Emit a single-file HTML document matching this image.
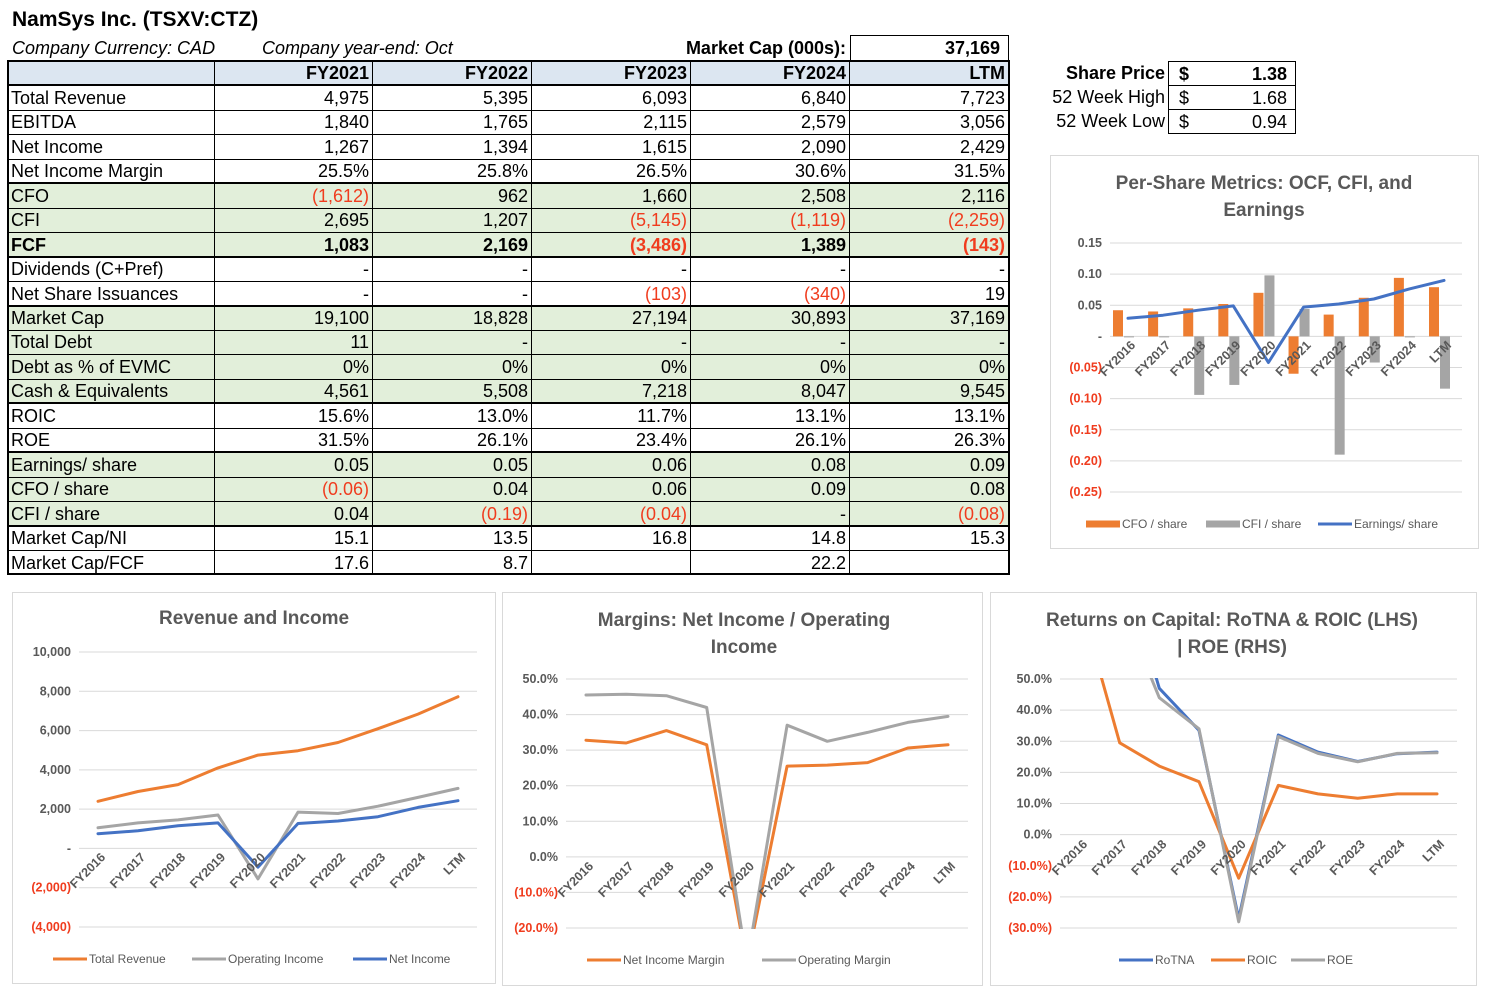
<!DOCTYPE html>
<html><head><meta charset="utf-8">
<style>
body{margin:0;width:1488px;height:995px;background:#fff;position:relative;overflow:hidden;font-family:"Liberation Sans",Arial,sans-serif;}
.abs{position:absolute;}
.cell{position:absolute;box-sizing:border-box;font-size:18px;line-height:24px;white-space:nowrap;overflow:hidden;padding:0 3px;color:#000;}
.r{text-align:right;}
.neg{color:#f03c1e;}
.chartbox{position:absolute;border:1px solid #d9d9d9;box-sizing:border-box;}
svg text{font-family:"Liberation Sans",Arial,sans-serif;}
</style></head><body>
<div class="abs" style="left:12px;top:8px;font-size:21px;font-weight:bold;">NamSys Inc. (TSXV:CTZ)</div>
<div class="abs" style="left:12px;top:38px;font-size:18px;font-style:italic;">Company Currency: CAD</div>
<div class="abs" style="left:262px;top:38px;font-size:18px;font-style:italic;">Company year-end: Oct</div>
<div class="abs" style="left:600px;width:246px;text-align:right;top:38px;font-size:18px;font-weight:bold;">Market Cap (000s):</div>
<div class="abs" style="left:850px;top:35px;width:159px;height:26px;box-sizing:border-box;border:1px solid #000;text-align:right;font-size:18px;font-weight:bold;line-height:24px;padding-right:8px;">37,169</div>
<div id="tbl"></div>
<div id="sp"></div>

<div class="chartbox" style="left:1050px;top:155px;width:429px;height:394px;"></div>
<div class="chartbox" style="left:12px;top:592px;width:484px;height:392px;"></div>
<div class="chartbox" style="left:502px;top:592px;width:481px;height:394px;"></div>
<div class="chartbox" style="left:990px;top:592px;width:487px;height:394px;"></div>
<svg id="svg" class="abs" style="left:0;top:0" width="1488" height="995"></svg>

<script>
// ---------- table data ----------
const rowLabels=["Total Revenue","EBITDA","Net Income","Net Income Margin","CFO","CFI","FCF","Dividends (C+Pref)","Net Share Issuances","Market Cap","Total Debt","Debt as % of EVMC","Cash & Equivalents","ROIC","ROE","Earnings/ share","CFO / share","CFI / share","Market Cap/NI","Market Cap/FCF"];
const colHeads=["FY2021","FY2022","FY2023","FY2024","LTM"];
const rowValues=[
["4,975","5,395","6,093","6,840","7,723"],
["1,840","1,765","2,115","2,579","3,056"],
["1,267","1,394","1,615","2,090","2,429"],
["25.5%","25.8%","26.5%","30.6%","31.5%"],
["(1,612)","962","1,660","2,508","2,116"],
["2,695","1,207","(5,145)","(1,119)","(2,259)"],
["1,083","2,169","(3,486)","1,389","(143)"],
["-","-","-","-","-"],
["-","-","(103)","(340)","19"],
["19,100","18,828","27,194","30,893","37,169"],
["11","-","-","-","-"],
["0%","0%","0%","0%","0%"],
["4,561","5,508","7,218","8,047","9,545"],
["15.6%","13.0%","11.7%","13.1%","13.1%"],
["31.5%","26.1%","23.4%","26.1%","26.3%"],
["0.05","0.05","0.06","0.08","0.09"],
["(0.06)","0.04","0.06","0.09","0.08"],
["0.04","(0.19)","(0.04)","-","(0.08)"],
["15.1","13.5","16.8","14.8","15.3"],
["17.6","8.7","","22.2",""]];
const greenRows=[4,5,6,9,10,11,12,15,16,17];
const groupBreaks=[0,4,7,9,13,15,18,20];

const colX=[8,215,373,532,691,850,1009];
const top0=61, rh=24.45;
const tbl=document.getElementById('tbl');
function mk(parent,cls,l,t,w,h,txt){const d=document.createElement('div');d.className=cls;d.style.left=l+'px';d.style.top=t+'px';d.style.width=w+'px';d.style.height=h+'px';d.textContent=txt;parent.appendChild(d);return d;}
// backgrounds
const hb=mk(tbl,'abs',8,top0,1001,rh,'');hb.style.background='#dce6f1';
greenRows.forEach(r=>{const b=mk(tbl,'abs',8,top0+rh*(r+1),1001,rh,'');b.style.background='#e2efda';});
// thin horizontal lines
for(let r=0;r<=21;r++){const l=mk(tbl,'abs',8,Math.round(top0+rh*r),1001,1,'');l.style.background='#000';}
// vertical lines
for(let c=1;c<6;c++){const l=mk(tbl,'abs',colX[c]-1,top0,1,rh*21,'');l.style.background='#000';}
// header
for(let c=1;c<6;c++){
  const d=mk(tbl,'cell r',colX[c],top0,colX[c+1]-colX[c]-1,rh,colHeads[c-1]);
  d.style.fontWeight='bold';
  
  
}
for(let r=0;r<rowLabels.length;r++){
  const y=top0+rh*(r+1)+0.5;
  for(let c=0;c<6;c++){
    const txt=c?rowValues[r][c-1]:rowLabels[r];
    const d=mk(tbl,'cell'+(c?' r':''),colX[c],y,colX[c+1]-colX[c]-1,rh,txt);
    if(r===6)d.style.fontWeight='bold';
    if(c&&txt.startsWith('('))d.classList.add('neg');
    
    
  }
}
// thick group lines
function hl(y){const d=mk(tbl,'abs',7,Math.round(y)-1,1003,2,'');d.style.background='#000';}
hl(top0);hl(top0+rh);
groupBreaks.forEach(b=>hl(top0+rh*(b+1)));
const lv=mk(tbl,'abs',7,top0,2,rh*21,'');lv.style.background='#000';
const rv=mk(tbl,'abs',1008,top0,2,rh*21,'');rv.style.background='#000';

// share price box
const sp=document.getElementById('sp');
const spLabels=["Share Price","52 Week High","52 Week Low"];
const spVals=["1.38","1.68","0.94"];
for(let i=0;i<3;i++){
  const y=61+i*24;
  const l=mk(sp,'cell r',1015,y,153,24,spLabels[i]);if(i==0)l.style.fontWeight='bold';
  const b=mk(sp,'cell',1168,y,128,25,'$');b.style.border='1px solid #000';b.style.paddingLeft='10px';if(i==0)b.style.fontWeight='bold';
  const v=mk(sp,'cell r',1200,y+1,90,24,spVals[i]);if(i==0)v.style.fontWeight='bold';
}

// ---------- chart data ----------
const cats=["FY2016","FY2017","FY2018","FY2019","FY2020","FY2021","FY2022","FY2023","FY2024","LTM"];
const cfoShare=[0.042,0.040,0.045,0.052,0.070,-0.060,0.035,0.062,0.094,0.079];
const cfiShare=[-0.001,-0.001,-0.094,-0.078,0.098,0.044,-0.190,-0.042,0,-0.084];
const epsShare=[0.029,0.034,0.042,0.049,-0.042,0.047,0.052,0.060,0.076,0.090];
const psTicks=[0.15,0.10,0.05,0,-0.05,-0.10,-0.15,-0.20,-0.25];
const revenue=[2400,2900,3250,4100,4750,4975,5395,6093,6840,7723];
const opIncome=[1050,1300,1450,1700,-1550,1850,1780,2150,2600,3056];
const netIncome=[750,900,1150,1300,-950,1267,1394,1615,2090,2429];
const revTicks=[10000,8000,6000,4000,2000,0,-2000,-4000];
const netMargin=[32.8,32.0,35.5,31.5,-30,25.5,25.8,26.5,30.6,31.5];
const opMargin=[45.5,45.7,45.3,42.0,-30,37.0,32.5,35.0,37.8,39.5];
const marginTicks=[50,40,30,20,10,0,-10,-20];
const rotna=[110,90,47,33.5,-27,32,26.5,23.5,26,26.5];
const roic=[75,29.5,22,17,-14,15.8,13.1,11.7,13.1,13.1];
const roe=[100,75,44,34,-28,31.5,26.1,23.4,26.1,26.3];
const retTicks=[50,40,30,20,10,0,-10,-20,-30];

const ORANGE='#ed7d31',GRAY='#a5a5a5',BLUE='#4472c4',RED='#f03c1e',TXT='#595959';
const svg=document.getElementById('svg');
const NS='http://www.w3.org/2000/svg';
function el(tag,attrs,parent){const e=document.createElementNS(NS,tag);for(const k in attrs)e.setAttribute(k,attrs[k]);(parent||svg).appendChild(e);return e;}
function txt(x,y,s,attrs,parent){const t=el('text',Object.assign({x:x,y:y,'font-size':12.5,'font-weight':'bold',fill:TXT},attrs),parent);t.textContent=s;return t;}

function makeChart(o){
  const g=el('g',{});
  
  
  const ys=v=>o.yTop+(o.vTop-v)*(o.yBot-o.yTop)/(o.vTop-o.vBot);
  const xs=i=>o.c0+i*(o.c1-o.c0)/(cats.length-1);
  o.ticks.forEach(v=>{
    const y=ys(v);
    const line=el('line',{x1:o.x0,x2:o.x1,y1:y,y2:y,stroke:'#d9d9d9','stroke-width':1},g);
    
    
    const t=txt(o.x0-8,y+4,o.fmt(v),{'text-anchor':'end',fill:v<0?RED:TXT},g);
    
    
  });
  const cid='clip'+o.name;
  const cp=el('clipPath',{id:cid},g);el('rect',{x:o.x0-5,y:o.yTop-1,width:o.x1-o.x0+10,height:o.yBot-o.yTop+2},cp);
  const marks=el('g',{'clip-path':'url(#'+cid+')'},g);
  const labels=el('g',{},g);
  return {g,marks,labels,ys,xs,o};
}
function catLabels(ch,y){
  cats.forEach((c,i)=>{
    const x=ch.xs(i)+8;
    const t=txt(x,y,c,{'text-anchor':'end',transform:'rotate(-45 '+x+' '+y+')'},ch.labels);
    
    
  });
}
function line(ch,vals,color,name){
  const pts=vals.map((v,i)=>ch.xs(i).toFixed(1)+','+ch.ys(v).toFixed(1)).join(' ');
  const p=el('polyline',{points:pts,fill:'none',stroke:color,'stroke-width':3,'stroke-linejoin':'round','stroke-linecap':'round'},ch.marks);
  
  
}
function legend(items,y){
  items.forEach(it=>{
    const l=el('line',{x1:it[0],x2:it[0]+34,y1:y,y2:y,stroke:it[2],'stroke-width':it[3]||3});
    
    
    const t=txt(it[0]+36,y+4,it[1],{'font-weight':'normal','font-size':12,fill:TXT});
    
    
  });
}
function title(lines,cx,y0){
  lines.forEach((s,i)=>{const t=txt(cx,y0+i*27,s,{'text-anchor':'middle','font-size':19,'font-weight':'bold',fill:TXT});
    
    });
}
const fmt2=v=>v===0?'-':(v<0?'('+Math.abs(v).toFixed(2)+')':v.toFixed(2));
const fmtN=v=>v===0?'-':(v<0?'('+Math.abs(v).toLocaleString('en-US')+')':v.toLocaleString('en-US'));
const fmtP=v=>v<0?'('+Math.abs(v).toFixed(1)+'%)':v.toFixed(1)+'%';

// per-share chart
title(["Per-Share Metrics: OCF, CFI, and","Earnings"],1264,189);
const ps=makeChart({name:'per-share-plot',x0:1110,x1:1462,yTop:243,yBot:492,vTop:0.15,vBot:-0.25,ticks:psTicks,fmt:fmt2,c0:1128,c1:1444});
cfoShare.forEach((v,i)=>{const y0=ps.ys(0),y=ps.ys(v);const r=el('rect',{x:ps.xs(i)-15,y:Math.min(y,y0),width:10,height:Math.abs(y-y0),fill:ORANGE},ps.marks);
  });
cfiShare.forEach((v,i)=>{const y0=ps.ys(0),y=ps.ys(v);const r=el('rect',{x:ps.xs(i)-4,y:Math.min(y,y0),width:10,height:Math.max(1,Math.abs(y-y0)),fill:GRAY},ps.marks);
  });
line(ps,epsShare,BLUE,'line-earnings-share');
catLabels(ps,346);
legend([[1086,'CFO / share',ORANGE,7],[1206,'CFI / share',GRAY,7],[1318,'Earnings/ share',BLUE,3]],524);

// revenue chart
title(["Revenue and Income"],254,624);
const rv2=makeChart({name:'revenue-plot',x0:79,x1:477,yTop:652,yBot:927,vTop:10000,vBot:-4000,ticks:revTicks,fmt:fmtN,c0:98,c1:458});
line(rv2,revenue,ORANGE,'line-total-revenue');
line(rv2,opIncome,GRAY,'line-operating-income');
line(rv2,netIncome,BLUE,'line-net-income');
catLabels(rv2,858);
legend([[53,'Total Revenue',ORANGE],[192,'Operating Income',GRAY],[353,'Net Income',BLUE]],959);

// margins chart
title(["Margins: Net Income / Operating","Income"],744,626);
const mg=makeChart({name:'margins-plot',x0:566,x1:968,yTop:679,yBot:928,vTop:50,vBot:-20,ticks:marginTicks,fmt:fmtP,c0:586,c1:948});
line(mg,netMargin,ORANGE,'line-net-income-margin');
line(mg,opMargin,GRAY,'line-operating-margin');
catLabels(mg,867);
legend([[587,'Net Income Margin',ORANGE],[762,'Operating Margin',GRAY]],960);

// returns chart
title(["Returns on Capital: RoTNA & ROIC (LHS)","| ROE (RHS)"],1232,626);
const rt=makeChart({name:'returns-plot',x0:1060,x1:1457,yTop:679,yBot:928,vTop:50,vBot:-30,ticks:retTicks,fmt:fmtP,c0:1080,c1:1437});
line(rt,rotna,BLUE,'line-rotna');
line(rt,roic,ORANGE,'line-roic');
line(rt,roe,GRAY,'line-roe');
catLabels(rt,845);
legend([[1119,'RoTNA',BLUE],[1211,'ROIC',ORANGE],[1291,'ROE',GRAY]],960);
</script>
</body></html>
